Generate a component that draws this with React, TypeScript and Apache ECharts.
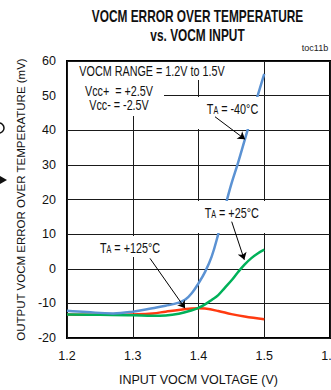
import { useEffect, useRef } from "react";
import * as echarts from "echarts";

// Output VOCM error (mV) vs. input VOCM voltage (V), three ambient temperatures
const coldVolts = [1.2, 1.23, 1.27, 1.3, 1.33, 1.35, 1.37, 1.38, 1.39, 1.4, 1.41, 1.42, 1.43, 1.44, 1.45, 1.46, 1.47, 1.48, 1.49, 1.5];
const coldError = [-12.1, -12.5, -12.9, -12.4, -11.4, -10.7, -9.8, -8.9, -7.0, -4.2, -0.9, 3.5, 10.0, 17.5, 24.5, 30.5, 37.0, 43.5, 50.0, 56.3];

const roomVolts = [1.2, 1.25, 1.3, 1.33, 1.35, 1.37, 1.39, 1.4, 1.41, 1.42, 1.43, 1.44, 1.45, 1.46, 1.47, 1.48, 1.49, 1.5];
const roomError = [-13.2, -13.3, -13.4, -13.6, -13.5, -13.0, -12.0, -11.3, -10.3, -9.0, -7.6, -5.5, -3.4, -1.0, 1.2, 3.0, 4.4, 5.5];

const hotVolts = [1.2, 1.25, 1.28, 1.3, 1.33, 1.35, 1.37, 1.39, 1.4, 1.41, 1.43, 1.45, 1.47, 1.5];
const hotError = [-13.2, -13.3, -13.3, -13.2, -12.9, -12.4, -11.9, -11.5, -11.4, -11.5, -12.2, -13.1, -13.8, -14.6];

const xTicks = { min: 1.2, max: 1.6, step: 0.1 };
const yTicks = { min: -20, max: 60, step: 10 };

// Callout arrows: [tail, head] in data units
const arrowCold = [[1.4251, 43.9], [1.4707, 37.4]];
const arrowRoom = [[1.4505, 13.6], [1.4697, 2.6]];
const arrowHot = [[1.3262, 3.0], [1.3795, -11.4]];

const SANS = "'Liberation Sans', Arial, Helvetica, sans-serif";
const NARROW = "'Liberation Sans Narrow', 'Arial Narrow', 'Liberation Sans', sans-serif";

const pairs = (xs: number[], ys: number[]) => xs.map((x, i) => [x, ys[i]]);

function squeezedText(text: string, x: number, y: number, size: number, bold = false, z = 6) {
  return {
    type: "text",
    x,
    y,
    scaleX: 0.72,
    z,
    silent: true,
    style: {
      text,
      x: 0,
      y: 0,
      align: "center",
      verticalAlign: "middle",
      fill: "#111",
      font: `${bold ? "bold " : ""}${size}px ${SANS}`,
    },
  };
}

function tempLabel(temp: string, x: number, y: number) {
  return {
    type: "text",
    x,
    y,
    scaleX: 0.72,
    z: 6,
    silent: true,
    style: {
      text: `{t|T}{s|A}{t| = ${temp}°C}`,
      x: 0,
      y: 0,
      align: "center",
      verticalAlign: "middle",
      fill: "#111",
      rich: {
        t: { fontSize: 15, fontFamily: SANS, fill: "#111", verticalAlign: "bottom" },
        s: { fontSize: 10, fontFamily: SANS, fill: "#111", verticalAlign: "bottom" },
      },
    },
  };
}

function mask(x: number, y: number, width: number, height: number) {
  return {
    type: "rect",
    z: 5,
    silent: true,
    shape: { x, y, width, height },
    style: { fill: "#fff" },
  };
}

export default function App() {
  const ref = useRef<HTMLDivElement>(null);

  useEffect(() => {
    if (!ref.current) return;
    const chart = echarts.init(ref.current, null, { renderer: "svg" });

    const option = {
      animation: false,
      backgroundColor: "#fff",
      grid: {
        left: 67,
        top: 61,
        width: 263,
        height: 277,
        outerBoundsMode: "none",
        containLabel: false,
        show: true,
        borderColor: "#000",
        borderWidth: 2,
        backgroundColor: "transparent",
      },
      xAxis: {
        type: "value",
        min: xTicks.min,
        max: xTicks.max,
        interval: xTicks.step,
        name: "INPUT VOCM VOLTAGE (V)",
        nameLocation: "middle",
        nameGap: 35,
        nameTextStyle: { fontFamily: NARROW, fontSize: 12.5, color: "#111" },
        axisLine: { show: false },
        axisTick: { show: false },
        axisLabel: {
          margin: 11,
          fontFamily: NARROW,
          fontSize: 12.5,
          color: "#111",
          hideOverlap: false,
          formatter: (v: number) => v.toFixed(1),
        },
        splitLine: { show: true, lineStyle: { color: "#1a1a1a", width: 1 } },
      },
      yAxis: {
        type: "value",
        min: yTicks.min,
        max: yTicks.max,
        interval: yTicks.step,
        name: "OUTPUT VOCM ERROR OVER TEMPERATURE (mV)",
        nameLocation: "middle",
        nameGap: 38,
        nameTextStyle: { fontFamily: SANS, fontSize: 11.5, color: "#111" },
        axisLine: { show: false },
        axisTick: { show: false },
        axisLabel: { margin: 11, fontFamily: NARROW, fontSize: 12.5, color: "#111" },
        splitLine: { show: true, lineStyle: { color: "#1a1a1a", width: 1 } },
      },
      series: [
        {
          name: "TA = +125°C",
          type: "line",
          data: pairs(hotVolts, hotError),
          smooth: 0.4,
          showSymbol: false,
          z: 2,
          lineStyle: { color: "#ff3a10", width: 2.5 },
        },
        {
          name: "TA = +25°C",
          type: "line",
          data: pairs(roomVolts, roomError),
          smooth: 0.4,
          showSymbol: false,
          z: 3,
          lineStyle: { color: "#00b159", width: 2.5 },
        },
        {
          name: "TA = -40°C",
          type: "line",
          data: pairs(coldVolts, coldError),
          smooth: 0.4,
          showSymbol: false,
          z: 3,
          lineStyle: { color: "#5b92d3", width: 2.5 },
        },
        {
          type: "lines",
          coordinateSystem: "cartesian2d",
          z: 10,
          silent: true,
          symbol: ["none", "arrow"],
          symbolSize: 7,
          lineStyle: { color: "#000", width: 1, opacity: 1 },
          data: [{ coords: arrowCold }, { coords: arrowRoom }, { coords: arrowHot }],
        },
      ],
      graphic: [
        // title
        squeezedText("VOCM ERROR OVER TEMPERATURE", 197.5, 16, 16.5, true),
        squeezedText("vs. VOCM INPUT", 197.5, 35, 16.5, true),
        {
          type: "text",
          x: 315,
          y: 48,
          z: 6,
          silent: true,
          style: { text: "toc11b", align: "center", verticalAlign: "middle", fill: "#222", font: `9px ${SANS}` },
        },
        // white panels behind the annotations
        mask(68, 62, 172, 18),
        mask(68, 80, 96, 36),
        mask(196, 97, 66, 32),
        mask(197, 201, 68, 32),
        mask(95, 236, 70, 21),
        squeezedText("VOCM RANGE = 1.2V to 1.5V", 152, 71, 15),
        squeezedText("Vcc+  = +2.5V", 119, 91, 15),
        squeezedText("Vcc- = -2.5V", 119, 105, 15),
        tempLabel("-40", 232.5, 108.5),
        tempLabel("+25", 231.7, 212.5),
        tempLabel("+125", 130, 247.5),
        // fragments at the left margin
        {
          type: "arc",
          z: 6,
          silent: true,
          shape: { cx: -1, cy: 128, r: 5, startAngle: -Math.PI / 2, endAngle: Math.PI / 2 },
          style: { stroke: "#111", lineWidth: 1.5, fill: "none" },
        },
        {
          type: "polygon",
          z: 6,
          silent: true,
          shape: { points: [[0, 176], [7, 180], [0, 184]] },
          style: { fill: "#111" },
        },
      ],
    };

    chart.setOption(option as any);
    return () => chart.dispose();
  }, []);

  return (
    <div
      ref={ref}
      style={{ position: "absolute", left: 0, top: 0, width: 331, height: 390 }}
    />
  );
}
